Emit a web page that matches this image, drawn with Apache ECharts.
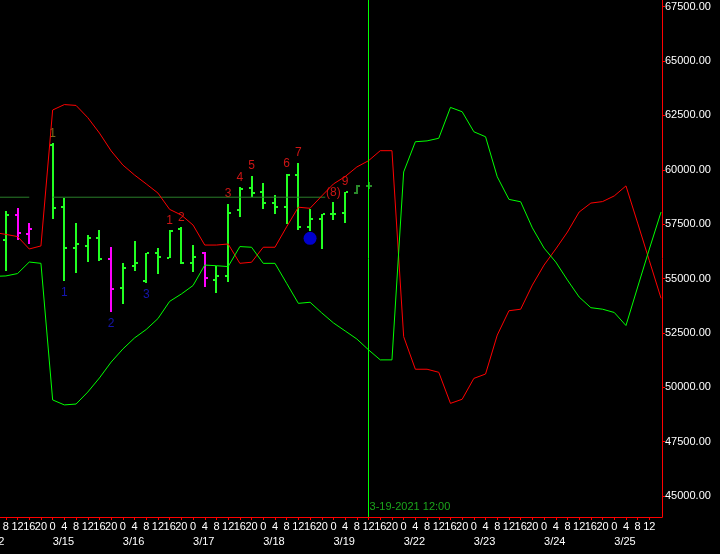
<!DOCTYPE html>
<html><head><meta charset="utf-8">
<script src="https://cdn.jsdelivr.net/npm/echarts@6/dist/echarts.min.js"></script>
<style>html,body{margin:0;padding:0;background:#000}#c{width:720px;height:554px}</style>
</head><body><div id="c"></div>
<script>
// ---- slot (4-hour) x labels ----
const slotHours = [8,12,16,20, 0,4,8,12,16,20, 0,4,8,12,16,20, 0,4,8,12,16,20, 0,4,8,12,16,20, 0,4,8,12,16,20,
                   0,4,8,12,16,20, 0,4,8,12,16,20, 0,4,8,12,16,20, 0,4,8,12,16];
const dayLabels = ['3/15','3/16','3/17','3/18','3/19','3/22','3/23','3/24','3/25'];
const dayStartIdx = [4,10,16,22,28,34,40,46,52];
const yTicks = [45000,47500,50000,52500,55000,57500,60000,62500,65000,67500];

// ---- OHLC bars (index = slot), null = no bar ----
const opens  = [56790,57940,57060,null,61160,58300,56420,56510,56880,55910,54570,55560,54890,56160,55950,57290,55730,56160,54930,55130,58170,59180,58990,58490,58300,59780,57380,57750,57960,58000,58920,59260];
const highs  = [58110,58240,57560,null,61220,58720,57560,56990,57230,56450,55720,56730,56180,56390,57220,57360,56540,56210,55580,58430,59200,59720,59410,58840,59810,60330,58190,57960,58510,58990,59320,59440];
const lows   = [55350,56770,56590,null,57740,54900,55270,55730,55820,53480,53840,55360,54810,55210,55910,55660,55320,54600,54320,54860,57840,58740,58200,57980,57510,57270,57160,56350,57660,57570,58920,59130];
const closes = [57940,57110,57290,null,58260,56420,56600,56880,55910,54530,55500,55720,56160,55980,57200,55700,56010,55040,55120,58030,59130,58920,58490,58300,59750,57380,57750,57960,57960,58970,59260,59260];
const barKinds = ['g','m','m',null,'g','g','g','g','g','m','g','g','g','g','g','g','g','m','g','g','g','g','g','g','g','g','g','g','g','g','d','d'];

// ---- bands (slot -1 .. 56) ----
const bandStart = -1;
const redBand = [57120,57030,56930,56360,56500,62750,63000,62960,62400,61690,60870,60220,59760,59350,58930,58180,57920,57460,56540,56540,56590,55700,55750,56440,56440,57380,58280,58230,58800,59350,59690,60130,60420,60880,60880,
                 52330,50830,50830,50690,49260,49450,50410,50610,52400,53520,53590,54700,55620,56360,57140,58060,58470,58540,58800,59260,57550,55820,54090];
const greenBand = [55100,55120,55230,55760,55700,49420,49190,49230,49780,50430,51160,51760,52270,52660,53160,53950,54290,54680,55620,55590,55550,56470,56440,55700,55700,54780,53860,53910,53420,52960,52590,52220,51720,51260,51260,
                   59900,61290,61330,61450,62870,62670,61750,61520,59680,58640,58530,57330,56400,55760,54930,54150,53660,53590,53440,52840,54610,56360,58060];

// ---- annotations ----
const levelValue = 58740;
const levelSegments = [[-0.5, 2], [4, 27.3]];
const lastPrice = 59260;
const nowSlot = 31;
const nowText = '3-19-2021 12:00';
const redCountIdx = [14,15,19,20,21,24,25,28,29];
const redCountText = ['1','2','3','4','5','6','7','(8)','9'];
const blueCountIdx = [5,9,12];
const blueCountText = ['1','2','3'];
const oliveCountIdx = [4];
const oliveCountText = ['1'];
const dotSlot = 26, dotValue = 56850;

const colorMap = {g:'#22ff22', m:'#ff00ff', d:'#2a8a2a'};
const FONT = 'Liberation Sans';

const barData = [];
opens.forEach((o,i)=>{ if(o!=null) barData.push([i,o,highs[i],lows[i],closes[i]]); });
const band = arr => arr.map((v,k)=>[k+bandStart, v]);
const levelData = [];
levelSegments.forEach((s,k)=>{ if(k>0) levelData.push([s[0]-0.5,'-']); levelData.push([s[0],levelValue],[s[1],levelValue]); });

const XMIN = -0.5, XMAX = 56.08;
const hourTicks = []; for (let i=0;i<=55;i++) hourTicks.push(i);

const chart = echarts.init(document.getElementById('c'), null, {renderer:'canvas'});
chart.setOption({
  backgroundColor:'#000000',
  animation:false,
  grid:{left:0,right:58,top:0,bottom:37,containLabel:false,outerBoundsMode:'none'},
  xAxis:[
    {type:'value',min:XMIN,max:XMAX,position:'bottom',
     axisLine:{show:true,onZero:false,lineStyle:{color:'#ff0000',width:1}},
     axisTick:{show:true,customValues:hourTicks,length:3,lineStyle:{color:'#ff0000'}},
     axisLabel:{customValues:hourTicks,color:'#ffffff',fontFamily:FONT,fontSize:11,margin:4,
       formatter:v=>String(slotHours[Math.round(v)])},
     splitLine:{show:false}},
    {type:'value',min:XMIN,max:XMAX,position:'bottom',
     axisLine:{show:false,onZero:false},axisTick:{show:false},splitLine:{show:false},
     axisLabel:{customValues:dayStartIdx,color:'#ffffff',fontFamily:FONT,fontSize:11,margin:19,align:'left',
       formatter:v=>dayLabels[dayStartIdx.indexOf(Math.round(v))]}},
    {type:'value',min:XMIN,max:XMAX,position:'bottom',
     axisLine:{show:false,onZero:false},axisTick:{show:false},splitLine:{show:false},
     axisLabel:{customValues:[-0.12],color:'#ffffff',fontFamily:FONT,fontSize:11,margin:19,align:'right',
       formatter:()=> '3/12'}}
  ],
  yAxis:{type:'value',position:'right',min:44036,max:67808,
    axisLine:{show:true,onZero:false,lineStyle:{color:'#ff0000',width:1}},
    axisTick:{show:true,customValues:yTicks,length:3,lineStyle:{color:'#ff0000'}},
    axisLabel:{customValues:yTicks,color:'#ffffff',fontFamily:FONT,fontSize:11,margin:3,formatter:v=>v.toFixed(2)},
    splitLine:{show:false}},
  series:[
    {type:'line',data:levelData,symbol:'none',silent:true,connectNulls:false,
     lineStyle:{color:'#2a7f2a',width:1}},
    {type:'line',data:band(redBand),symbol:'none',silent:true,lineStyle:{color:'#ff0000',width:1}},
    {type:'line',data:band(greenBand),symbol:'none',silent:true,lineStyle:{color:'#00ff00',width:1},itemStyle:{color:'#00ff00'},
     markLine:{silent:true,symbol:'none',label:{show:false},emphasis:{disabled:true},
       lineStyle:{color:'#00ff00',width:1,type:'solid',opacity:1},
       data:[{xAxis:nowSlot,lineStyle:{color:'#00ff00',width:1,type:'solid'}}]}},
    {type:'custom',silent:true,data:barData,encode:{x:0,y:[1,2,3,4]},
     renderItem:(params,api)=>{
       const i=api.value(0);
       const pH=api.coord([i,api.value(2)]), pL=api.coord([i,api.value(3)]);
       const pO=api.coord([i,api.value(1)]), pC=api.coord([i,api.value(4)]);
       const x=Math.round(pH[0]);
       const col=colorMap[barKinds[i]];
       return {type:'group',children:[
         {type:'rect',shape:{x:x-1,y:Math.round(pH[1]),width:2,height:Math.max(2,Math.round(pL[1]-pH[1]))},style:{fill:col}},
         {type:'rect',shape:{x:x-3,y:Math.round(pO[1])-1,width:2,height:2},style:{fill:col}},
         {type:'rect',shape:{x:x+1,y:Math.round(pC[1])-1,width:2,height:2},style:{fill:col}}
       ]};
     }},
    {type:'scatter',silent:true,data:[[dotSlot,dotValue]],symbolSize:13,itemStyle:{color:'#0000ff'}},
    {type:'scatter',silent:true,symbolSize:0,data:redCountIdx.map((i,k)=>({value:[i,highs[i]],label:{formatter:redCountText[k]}})),
     label:{show:true,position:'top',distance:4,color:'#ff1a1a',fontFamily:FONT,fontSize:12}},
    {type:'scatter',silent:true,symbolSize:0,data:oliveCountIdx.map((i,k)=>({value:[i,highs[i]],label:{formatter:oliveCountText[k]}})),
     label:{show:true,position:'top',distance:4,color:'#9a8420',fontFamily:FONT,fontSize:12}},
    {type:'scatter',silent:true,symbolSize:0,data:blueCountIdx.map((i,k)=>({value:[i,lows[i]],label:{formatter:blueCountText[k]}})),
     label:{show:true,position:'bottom',distance:6,color:'#1a1ad8',fontFamily:FONT,fontSize:12}},
    {type:'scatter',silent:true,symbolSize:0,data:[[nowSlot,44496]],
     label:{show:true,position:'right',distance:1,formatter:nowText,color:'#22cc22',fontFamily:FONT,fontSize:11}},
    {type:'line',silent:true,data:[],symbol:'none',
     markLine:{silent:true,symbol:'none',lineStyle:{opacity:0},
       label:{show:true,position:'end',distance:1,formatter:lastPrice.toFixed(2),color:'#000000',backgroundColor:'#ffff00',
         borderColor:'#ff0000',borderWidth:1,padding:[3,2,2,2],fontFamily:FONT,fontSize:11},
       data:[{yAxis:lastPrice}]}}
  ]
});
</script></body></html>
